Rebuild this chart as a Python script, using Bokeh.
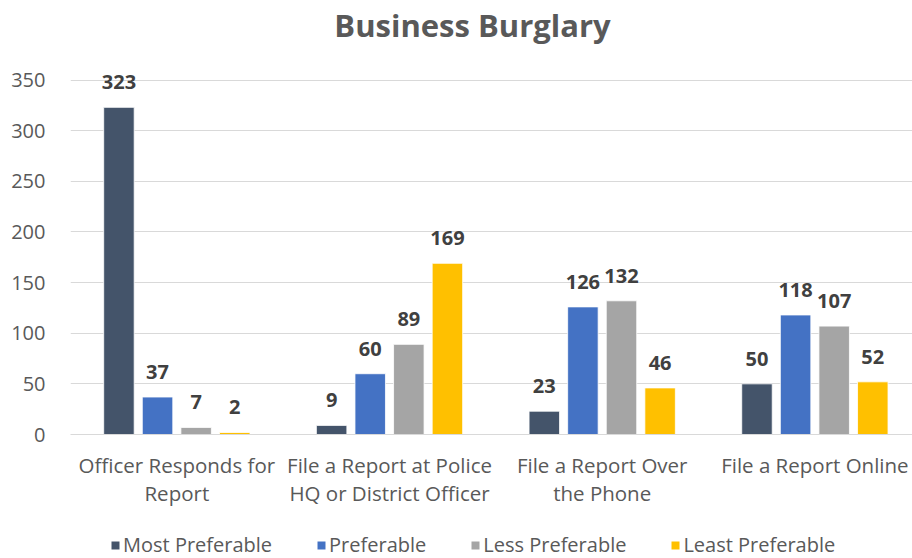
from bokeh.plotting import figure
from bokeh.layouts import column
from bokeh.models import (Range1d, Legend, LegendItem, ColumnDataSource, LabelSet, Label,
                          FixedTicker)
from bokeh.core.properties import value
from bokeh.transform import dodge
from bokeh.embed import file_html
from bokeh.resources import INLINE

title = "Business Burglary"
categories = ["Officer Responds for\nReport",
              "File a Report at Police\nHQ or District Officer",
              "File a Report Over\nthe Phone",
              "File a Report Online"]
series = ["Most Preferable", "Preferable", "Less Preferable", "Least Preferable"]
most_preferable = [323, 9, 23, 50]
preferable = [37, 60, 126, 118]
less_preferable = [7, 89, 132, 107]
least_preferable = [2, 169, 46, 52]
colors = ["#44546A", "#4472C4", "#A5A5A5", "#FFC000"]
y_ticks = [0, 50, 100, 150, 200, 250, 300, 350]

FONT = "Open Sans"
TEXT = "#595959"
idx = list(range(len(categories)))
values = [most_preferable, preferable, less_preferable, least_preferable]

src = ColumnDataSource(dict(
    idx=idx,
    **{f"s{i}": v for i, v in enumerate(values)},
    **{f"t{i}": [str(x) for x in v] for i, v in enumerate(values)},
))

W = 912
MAIN_H = 514
LEG_H = 44
PX_PER_UNIT = 354.5 / 350.0
FRAME_H = 434
y_top = FRAME_H / PX_PER_UNIT

p = figure(width=W, height=MAIN_H, x_range=Range1d(-0.5, 3.459), y_range=Range1d(0, y_top),
           output_backend="svg", toolbar_location=None,
           min_border_left=70, min_border_right=0, min_border_top=0, min_border_bottom=MAIN_H - FRAME_H)

# chart title, drawn inside the (invisible) top part of the frame
xr = p.x_range
p.add_layout(Label(x=(xr.start + xr.end) / 2, y=y_top - 24.5 / PX_PER_UNIT, x_offset=-19,
                   text=title, text_align="center", text_baseline="alphabetic",
                   text_font=FONT, text_font_size="31px", text_font_style="bold",
                   text_color=TEXT))

step = 0.1815
bw = 0.1434
for i in range(4):
    off = (i - 1.5) * step
    p.vbar(x=dodge("idx", off, range=p.x_range), top=f"s{i}", width=bw, source=src,
           fill_color=colors[i], line_color="white", line_width=0.8)
    p.add_layout(LabelSet(x=dodge("idx", off, range=p.x_range), y=f"s{i}", text=f"t{i}", source=src,
                          text_align="center", text_baseline="alphabetic", y_offset=18,
                          text_font=value(FONT), text_font_size=value("20px"),
                          text_font_style=value("bold"), text_color=value("#404040")))

p.outline_line_color = None
p.xgrid.grid_line_color = None
p.ygrid.ticker = FixedTicker(ticks=y_ticks)
p.ygrid.grid_line_color = "#D9D9D9"
p.ygrid.grid_line_width = 1

p.yaxis.ticker = FixedTicker(ticks=y_ticks)
p.yaxis.axis_line_color = None
p.yaxis.major_tick_line_color = None
p.yaxis.major_tick_out = 0
p.yaxis.major_tick_in = 0
p.yaxis.minor_tick_line_color = None
p.yaxis.major_label_standoff = 25
p.yaxis.major_label_text_font = FONT
p.yaxis.major_label_text_font_size = "20px"
p.yaxis.major_label_text_color = TEXT

p.xaxis.ticker = FixedTicker(ticks=idx)
p.xaxis.major_label_overrides = {i: c for i, c in zip(idx, categories)}
p.xaxis.axis_line_color = "#D9D9D9"
p.xaxis.major_tick_line_color = None
p.xaxis.major_tick_out = 0
p.xaxis.major_tick_in = 0
p.xaxis.minor_tick_line_color = None
p.xaxis.major_label_standoff = 16
p.xaxis.major_label_text_font = FONT
p.xaxis.major_label_text_font_size = "20.5px"
p.xaxis.major_label_text_line_height = 1.03
p.xaxis.major_label_text_color = TEXT

# legend strip below the chart
lf = figure(width=W, height=LEG_H, x_range=p.x_range, y_range=Range1d(1000, 1001),
            output_backend="svg", toolbar_location=None, x_axis_type=None, y_axis_type=None,
            min_border_left=0, min_border_right=0, min_border_top=0, min_border_bottom=0)
lf.outline_line_color = None
lf.xgrid.visible = False
lf.ygrid.visible = False
items = []
for i in range(4):
    off = (i - 1.5) * step
    r = lf.vbar(x=dodge("idx", off, range=p.x_range), top=f"s{i}", width=bw, source=src,
                fill_color=colors[i], line_color=None)
    items.append(LegendItem(label=series[i], renderers=[r]))
legend = Legend(items=items, orientation="horizontal", location=(40, 0),
                label_text_font=FONT, label_text_font_size="20px", label_text_color=TEXT,
                glyph_width=10, glyph_height=10, label_standoff=3, spacing=44, label_height=20,
                border_line_color=None, background_fill_alpha=0, padding=0, margin=0)
lf.add_layout(legend)

open("out.html", "w").write(file_html(column(p, lf), INLINE))
